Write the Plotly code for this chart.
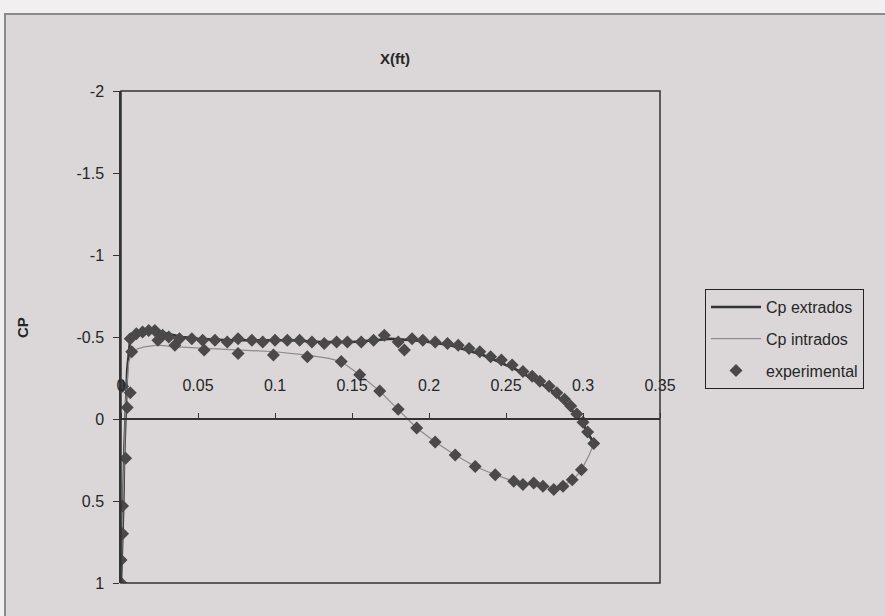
import plotly.graph_objects as go

# ---- data ----
ext_x = [0.0, 0.0005, 0.001, 0.0015, 0.002, 0.003, 0.004, 0.006, 0.010, 0.015, 0.022, 0.030, 0.040,
         0.050, 0.070, 0.090, 0.110, 0.130, 0.150, 0.165, 0.175, 0.190, 0.200, 0.214, 0.225, 0.235,
         0.245, 0.257, 0.268, 0.279, 0.290, 0.298, 0.303, 0.307]
ext_cp = [1.0, 0.85, 0.69, 0.53, 0.24, -0.07, -0.30, -0.49, -0.52, -0.53, -0.54, -0.52, -0.50,
          -0.49, -0.48, -0.48, -0.48, -0.47, -0.47, -0.48, -0.49, -0.48, -0.47, -0.45, -0.42, -0.39,
          -0.35, -0.30, -0.24, -0.18, -0.08, 0.0, 0.08, 0.15]

int_x = [0.0, 0.001, 0.002, 0.003, 0.005, 0.008, 0.015, 0.024, 0.036, 0.055, 0.076, 0.100, 0.121,
         0.135, 0.143, 0.155, 0.168, 0.180, 0.192, 0.204, 0.217, 0.230, 0.243, 0.255, 0.268, 0.281,
         0.293, 0.299, 0.304, 0.307]
int_cp = [1.0, 0.60, 0.20, -0.10, -0.35, -0.42, -0.44, -0.45, -0.44, -0.43, -0.42, -0.41, -0.39,
          -0.37, -0.35, -0.27, -0.17, -0.055, 0.055, 0.14, 0.22, 0.29, 0.34, 0.38, 0.40, 0.42,
          0.38, 0.31, 0.22, 0.15]

exp_x = [0.000, 0.000, 0.001, 0.001, 0.003, 0.004, 0.001, 0.006, 0.007,
         0.006, 0.010, 0.014, 0.018, 0.022, 0.027, 0.031, 0.038, 0.046, 0.053, 0.061, 0.069, 0.076,
         0.085, 0.092, 0.100, 0.108, 0.116, 0.124, 0.132, 0.140, 0.147, 0.156, 0.164, 0.171, 0.180,
         0.184, 0.189, 0.196, 0.204, 0.212, 0.219, 0.226, 0.233, 0.240, 0.247, 0.254, 0.261, 0.267,
         0.272, 0.278, 0.283, 0.288, 0.292, 0.296, 0.300, 0.303, 0.307,
         0.024, 0.035, 0.054, 0.076, 0.099, 0.121, 0.143, 0.155, 0.168, 0.180, 0.192, 0.204, 0.217,
         0.230, 0.243, 0.255, 0.261, 0.268, 0.274, 0.281, 0.287, 0.293, 0.299]
exp_cp = [1.00, 0.86, 0.70, 0.53, 0.24, -0.07, -0.20, -0.16, -0.41,
          -0.49, -0.52, -0.53, -0.54, -0.54, -0.51, -0.50, -0.49, -0.49, -0.48, -0.48, -0.47, -0.49,
          -0.48, -0.47, -0.48, -0.48, -0.48, -0.47, -0.46, -0.47, -0.47, -0.47, -0.48, -0.51, -0.47,
          -0.42, -0.49, -0.48, -0.47, -0.46, -0.45, -0.43, -0.41, -0.38, -0.36, -0.33, -0.29, -0.26,
          -0.23, -0.20, -0.16, -0.12, -0.08, -0.03, 0.02, 0.08, 0.15,
          -0.48, -0.45, -0.42, -0.40, -0.39, -0.38, -0.35, -0.27, -0.17, -0.06, 0.055, 0.14, 0.22,
          0.29, 0.34, 0.38, 0.40, 0.39, 0.41, 0.43, 0.41, 0.37, 0.31]

x_ticks = [0, 0.05, 0.1, 0.15, 0.2, 0.25, 0.3, 0.35]
x_tick_text = ["0", "0.05", "0.1", "0.15", "0.2", "0.25", "0.3", "0.35"]
y_ticks = [-2, -1.5, -1, -0.5, 0, 0.5, 1]
y_tick_text = ["-2", "-1.5", "-1", "-0.5", "0", "0.5", "1"]

FONT = "Arial, Liberation Sans, sans-serif"
BG = "#dbd7d9"
INK = "#262626"

fig = go.Figure()
fig.add_trace(go.Scatter(x=ext_x, y=ext_cp, mode="lines", name="Cp extrados",
                         line=dict(color="#333333", width=2.5), legendgroup="a"))
fig.add_trace(go.Scatter(x=int_x, y=int_cp, mode="lines", name="Cp intrados",
                         line=dict(color="#8c8a8b", width=1.2), legendgroup="b"))
fig.add_trace(go.Scatter(x=exp_x, y=exp_cp, mode="markers", name="experimental",
                         marker=dict(symbol="diamond", size=10, color="#4a4849"), legendgroup="c"))

fig.update_layout(
    width=885, height=616,
    margin=dict(l=121, r=225, t=91, b=33),
    paper_bgcolor="#f1eff0",
    plot_bgcolor="rgba(0,0,0,0)",
    font=dict(family=FONT, color=INK, size=16),
    showlegend=True,
    legend=dict(x=1.0835, y=0.5976, xanchor="left", yanchor="top",
                bordercolor="#222222", borderwidth=1, bgcolor="rgba(0,0,0,0)",
                font=dict(size=16, family=FONT, color=INK), tracegroupgap=8,
                itemwidth=50),
    xaxis=dict(range=[0, 0.35], anchor="free", position=1/3, side="top",
               showline=True, linecolor="#333333", linewidth=1.5,
               ticks="outside", ticklen=5, tickcolor="#333333", tickwidth=1,
               tickvals=x_ticks, ticktext=x_tick_text, showgrid=False, zeroline=False,
               tickfont=dict(size=16), ticklabelstandoff=16),
    yaxis=dict(range=[1, -2], showline=True, linecolor="#333333", linewidth=1.5,
               ticks="outside", ticklen=6, tickcolor="#333333", tickwidth=1,
               tickvals=y_ticks, ticktext=y_tick_text, showgrid=False, zeroline=False,
               tickfont=dict(size=16), ticklabelstandoff=6),
    shapes=[
        dict(type="rect", xref="paper", yref="paper", x0=-0.2152, x1=1.45, y0=-0.08, y1=1.1565,
             fillcolor=BG, line=dict(color="#8a8a8a", width=2), layer="below"),
        dict(type="rect", xref="paper", yref="paper", x0=0, x1=1, y0=0, y1=1,
             line=dict(color="#333333", width=1.5), layer="above"),
    ],
    annotations=[
        dict(text="<b>X(ft)</b>", xref="paper", yref="paper", x=0.508, y=1.067,
             xanchor="center", yanchor="middle",
             showarrow=False, font=dict(size=15, family=FONT, color=INK)),
        dict(text="<b>CP</b>", xref="paper", yref="paper", x=-0.184, y=0.52,
             xanchor="center", yanchor="middle",
             showarrow=False, textangle=-90, font=dict(size=15, family=FONT, color=INK)),
    ],
)

fig.write_html("out.html")
